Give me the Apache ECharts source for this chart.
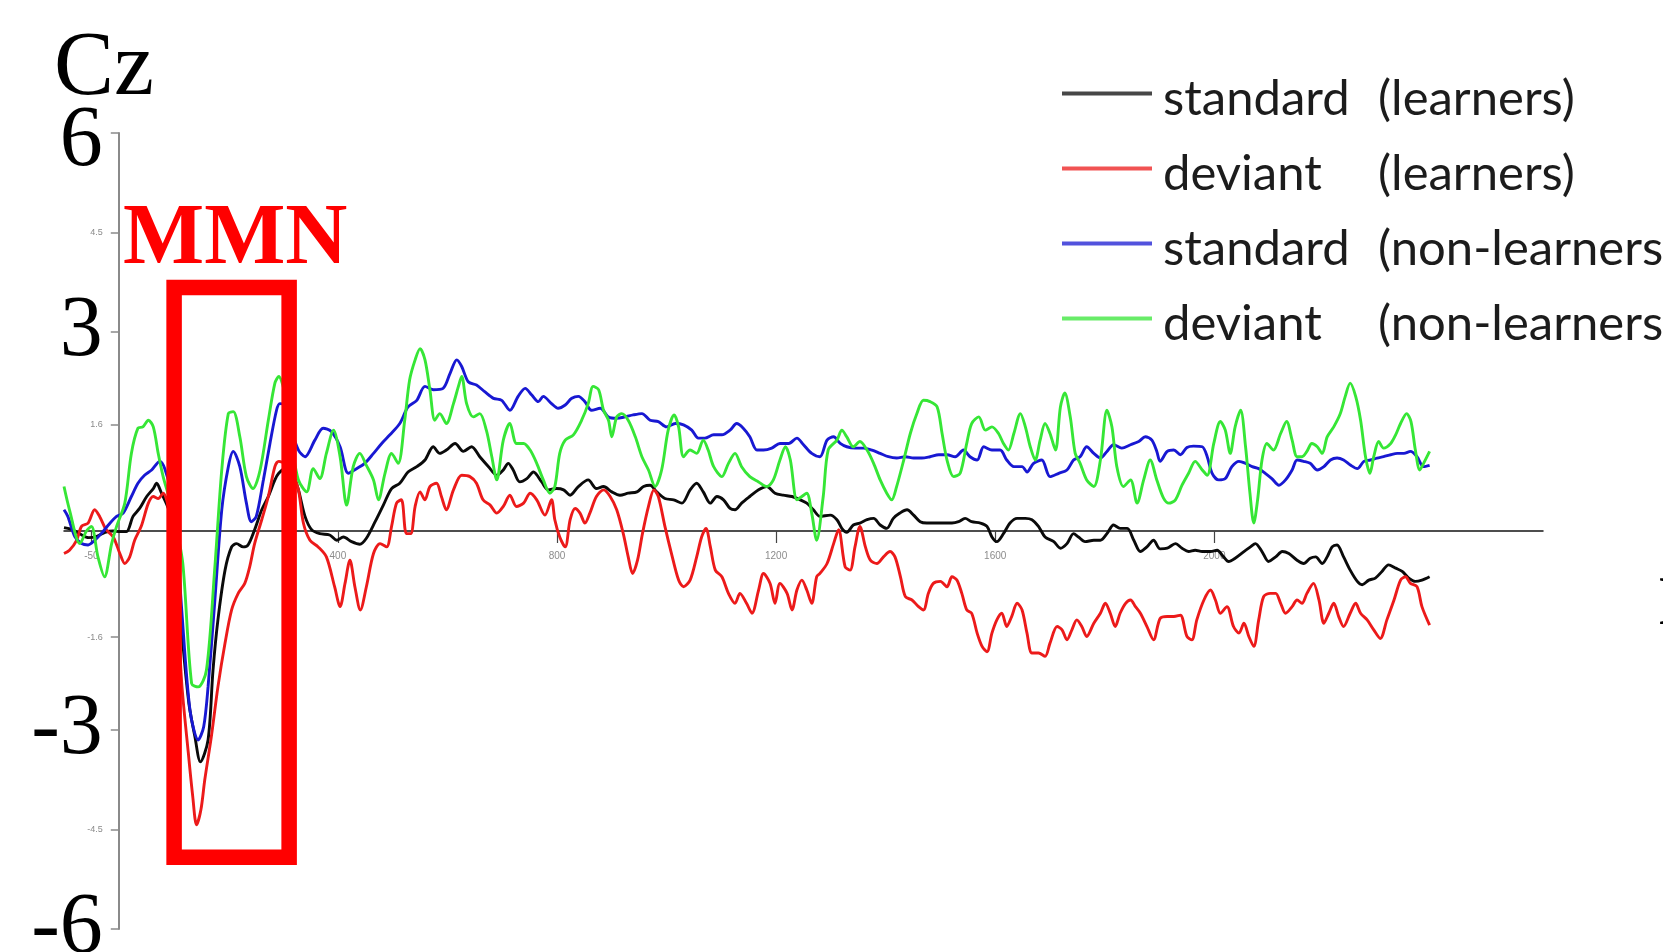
<!DOCTYPE html>
<html lang="en">
<head>
<meta charset="UTF-8">
<title>Cz ERP - MMN</title>
<script src="https://cdn.jsdelivr.net/npm/echarts@6/dist/echarts.min.js"></script>
<style>
  html, body { margin: 0; padding: 0; background: #fff; }
  #main { width: 1663px; height: 952px; }
</style>
</head>
<body>
<div id="main"></div>
<script>
// series names / colours (legend order)
var seriesNames = ['standard (learners)', 'deviant (learners)', 'standard (non-learners)', 'deviant (non-learners)'];
var seriesColors = ['#0a0a0a', '#ec1a1a', '#1818d2', '#36e636'];

// axis ticks
var xTicks = [-50, 400, 800, 1200, 1600, 2000];
var yTicks = [6, 4.5, 3, 1.6, -1.6, -3, -4.5, -6];
var bigYTicks = [6, 3, -3, -6];

// MMN window (ms) and box extent (uV)
var mmnWindow = [101, 311];
var mmnRange = [3.67, -4.92];

// [time ms, amplitude uV]
var stdLearners = [
  [-100,0.05],[-85,0.02],[-70,-0.05],[-55,-0.1],[-40,-0.08],[-25,-0.02],[-10,0.0],[2,-0.01],[14,-0.01],[26,0.22],
  [38,0.34],[51,0.52],[63,0.64],[69,0.72],[78,0.57],[90,0.35],[102,0.0],[115,-1.5],[128,-2.6],[139,-3.1],
  [149,-3.48],[163,-3.15],[172,-2.1],[181,-1.34],[194,-0.59],[206,-0.24],[215,-0.19],[227,-0.24],[236,-0.21],[248,0.02],
  [261,0.32],[273,0.52],[285,0.77],[292,0.87],[305,0.95],[318,0.85],[328,0.62],[340,0.22],[352,0.02],[367,-0.04],
  [385,-0.06],[398,-0.14],[410,-0.09],[425,-0.16],[440,-0.2],[452,-0.11],[468,0.14],[483,0.39],[498,0.64],[513,0.72],
  [528,0.89],[544,0.97],[559,1.07],[574,1.27],[586,1.17],[598,1.22],[614,1.32],[629,1.2],[644,1.27],[659,1.12],
  [675,0.97],[690,0.84],[702,0.92],[711,1.02],[720,0.92],[732,0.74],[745,0.79],[757,0.89],[772,0.74],[784,0.62],
  [799,0.64],[812,0.62],[824,0.54],[839,0.67],[857,0.77],[872,0.64],[885,0.67],[900,0.59],[915,0.54],[930,0.57],
  [946,0.59],[958,0.67],[970,0.69],[982,0.59],[997,0.49],[1013,0.47],[1028,0.42],[1043,0.62],[1055,0.72],[1067,0.59],
  [1080,0.42],[1092,0.52],[1104,0.47],[1116,0.34],[1125,0.32],[1137,0.42],[1152,0.52],[1168,0.62],[1183,0.67],[1198,0.57],
  [1213,0.54],[1229,0.52],[1244,0.47],[1256,0.42],[1268,0.32],[1280,0.22],[1299,0.24],[1311,0.17],[1320,0.04],[1329,-0.02],
  [1341,0.09],[1353,0.12],[1366,0.17],[1378,0.19],[1390,0.09],[1402,0.04],[1414,0.19],[1426,0.27],[1439,0.32],[1451,0.24],
  [1463,0.14],[1475,0.12],[1490,0.12],[1506,0.12],[1521,0.12],[1533,0.14],[1545,0.19],[1557,0.14],[1573,0.12],[1585,0.07],
  [1594,-0.09],[1603,-0.16],[1615,-0.04],[1627,0.12],[1640,0.19],[1655,0.19],[1667,0.17],[1679,0.07],[1691,-0.09],[1707,-0.16],
  [1719,-0.26],[1731,-0.19],[1743,-0.04],[1752,-0.09],[1764,-0.16],[1780,-0.14],[1792,-0.14],[1804,-0.04],[1816,0.09],[1828,0.04],
  [1841,0.04],[1853,-0.14],[1865,-0.31],[1877,-0.24],[1889,-0.14],[1901,-0.27],[1914,-0.26],[1929,-0.19],[1941,-0.26],[1953,-0.31],
  [1965,-0.29],[1978,-0.31],[1993,-0.31],[2005,-0.29],[2017,-0.39],[2026,-0.46],[2038,-0.41],[2054,-0.31],[2066,-0.24],[2075,-0.19],
  [2087,-0.31],[2099,-0.46],[2112,-0.39],[2124,-0.31],[2136,-0.34],[2151,-0.44],[2163,-0.49],[2175,-0.41],[2185,-0.39],[2197,-0.49],
  [2206,-0.39],[2215,-0.24],[2224,-0.21],[2236,-0.39],[2248,-0.59],[2261,-0.76],[2270,-0.81],[2282,-0.74],[2294,-0.71],[2306,-0.61],
  [2318,-0.51],[2331,-0.56],[2343,-0.61],[2355,-0.71],[2367,-0.76],[2379,-0.74],[2393,-0.69]
];

var devLearners = [
  [-100,-0.34],[-90,-0.29],[-77,-0.14],[-68,0.07],[-56,0.12],[-44,0.32],[-35,0.22],[-23,0.02],[-10,-0.09],[2,-0.34],
  [11,-0.49],[20,-0.39],[29,-0.14],[41,0.07],[54,0.42],[63,0.52],[72,0.49],[81,0.57],[92,0.3],[102,-0.4],
  [115,-2.3],[127,-3.35],[135,-4.0],[142,-4.43],[150,-4.2],[157,-3.75],[169,-3.1],[181,-2.35],[194,-1.69],[206,-1.19],
  [218,-0.94],[230,-0.79],[239,-0.54],[248,-0.19],[261,0.17],[273,0.52],[285,0.97],[292,1.05],[305,1.0],[318,0.85],
  [328,0.62],[337,0.12],[349,-0.14],[364,-0.24],[379,-0.39],[394,-0.84],[404,-1.14],[413,-0.79],[422,-0.44],[431,-0.84],
  [441,-1.19],[452,-0.84],[465,-0.34],[477,-0.19],[489,-0.24],[498,0.07],[507,0.42],[516,0.47],[525,-0.04],[533,-0.04],
  [541,0.37],[550,0.59],[559,0.47],[568,0.67],[580,0.72],[589,0.52],[598,0.32],[611,0.62],[626,0.84],[641,0.82],
  [653,0.72],[665,0.47],[678,0.39],[690,0.27],[702,0.37],[714,0.54],[726,0.37],[739,0.42],[751,0.57],[763,0.47],
  [778,0.24],[790,0.47],[796,0.17],[805,-0.09],[815,-0.24],[824,0.17],[833,0.34],[842,0.27],[851,0.12],[860,0.27],
  [872,0.52],[885,0.62],[897,0.52],[909,0.32],[921,-0.04],[930,-0.39],[938,-0.64],[947,-0.44],[956,-0.04],[967,0.37],
  [977,0.62],[985,0.52],[997,0.07],[1009,-0.34],[1022,-0.74],[1031,-0.84],[1043,-0.74],[1055,-0.39],[1064,-0.09],[1072,0.04],
  [1080,-0.24],[1089,-0.59],[1101,-0.69],[1113,-0.94],[1125,-1.09],[1134,-0.94],[1146,-1.09],[1156,-1.24],[1168,-0.89],[1177,-0.64],
  [1189,-0.79],[1198,-1.09],[1207,-0.79],[1220,-0.94],[1229,-1.19],[1238,-0.89],[1247,-0.74],[1256,-0.89],[1265,-1.09],[1274,-0.69],
  [1280,-0.64],[1293,-0.49],[1305,-0.19],[1314,0.02],[1326,-0.54],[1335,-0.59],[1344,-0.24],[1353,0.07],[1363,-0.24],[1372,-0.44],
  [1384,-0.49],[1396,-0.39],[1408,-0.31],[1417,-0.39],[1427,-0.69],[1436,-0.99],[1448,-1.04],[1460,-1.14],[1469,-1.19],[1478,-0.94],
  [1487,-0.79],[1500,-0.76],[1512,-0.84],[1521,-0.69],[1530,-0.74],[1539,-0.94],[1548,-1.19],[1557,-1.24],[1567,-1.54],[1576,-1.74],
  [1585,-1.82],[1594,-1.54],[1603,-1.34],[1612,-1.24],[1621,-1.44],[1630,-1.29],[1640,-1.09],[1649,-1.19],[1658,-1.54],[1667,-1.84],
  [1679,-1.84],[1691,-1.89],[1700,-1.69],[1713,-1.44],[1722,-1.49],[1731,-1.64],[1740,-1.49],[1749,-1.34],[1758,-1.44],[1767,-1.59],
  [1780,-1.39],[1792,-1.24],[1801,-1.09],[1810,-1.24],[1819,-1.44],[1828,-1.24],[1838,-1.09],[1847,-1.04],[1856,-1.14],[1865,-1.24],
  [1877,-1.44],[1889,-1.64],[1901,-1.32],[1914,-1.29],[1926,-1.29],[1938,-1.27],[1950,-1.59],[1959,-1.64],[1968,-1.34],[1981,-1.04],
  [1993,-0.89],[2002,-1.04],[2011,-1.24],[2023,-1.14],[2035,-1.44],[2045,-1.54],[2054,-1.39],[2063,-1.59],[2072,-1.74],[2081,-1.34],
  [2090,-0.99],[2102,-0.94],[2112,-0.94],[2121,-1.09],[2130,-1.24],[2142,-1.14],[2151,-1.04],[2160,-1.09],[2169,-0.94],[2181,-0.79],
  [2191,-1.04],[2200,-1.39],[2209,-1.24],[2218,-1.09],[2227,-1.29],[2236,-1.44],[2248,-1.24],[2258,-1.09],[2267,-1.24],[2279,-1.34],
  [2291,-1.49],[2303,-1.62],[2315,-1.34],[2328,-1.04],[2340,-0.74],[2349,-0.69],[2358,-0.79],[2370,-0.84],[2379,-1.14],[2393,-1.42]
];

var stdNonLearners = [
  [-100,0.32],[-93,0.22],[-80,-0.09],[-68,-0.19],[-56,-0.21],[-44,-0.14],[-32,-0.04],[-19,0.09],[-4,0.22],[8,0.27],
  [23,0.52],[35,0.72],[47,0.84],[60,0.92],[75,1.05],[84,0.94],[95,0.6],[105,0.0],[115,-1.2],[130,-2.7],
  [145,-3.15],[155,-2.95],[163,-2.35],[175,-1.09],[188,0.32],[200,0.97],[209,1.2],[221,0.97],[233,0.42],[242,0.14],
  [251,0.22],[264,0.77],[276,1.32],[288,1.82],[294,1.92],[305,1.9],[316,1.5],[328,1.22],[340,1.12],[358,1.37],
  [373,1.55],[388,1.5],[404,1.27],[419,0.87],[434,0.94],[449,1.02],[465,1.17],[480,1.32],[495,1.45],[513,1.62],
  [528,1.87],[544,1.97],[559,2.18],[574,2.13],[592,2.15],[605,2.38],[617,2.58],[626,2.48],[638,2.25],[653,2.2],
  [668,2.1],[684,2.0],[699,1.97],[714,1.82],[729,2.03],[742,2.15],[754,2.05],[766,1.95],[775,2.03],[790,1.92],
  [802,1.85],[815,1.9],[827,2.0],[839,2.03],[851,1.95],[863,1.82],[879,1.85],[894,1.72],[909,1.7],[924,1.72],
  [939,1.75],[955,1.77],[970,1.67],[985,1.65],[1000,1.57],[1016,1.62],[1031,1.6],[1046,1.52],[1058,1.4],[1070,1.4],
  [1086,1.45],[1101,1.45],[1116,1.52],[1128,1.62],[1140,1.55],[1152,1.42],[1165,1.22],[1177,1.22],[1192,1.25],[1207,1.32],
  [1223,1.32],[1238,1.4],[1250,1.3],[1265,1.17],[1280,1.12],[1293,1.37],[1305,1.42],[1317,1.32],[1329,1.27],[1344,1.25],
  [1360,1.25],[1375,1.22],[1390,1.17],[1405,1.12],[1420,1.1],[1436,1.12],[1451,1.1],[1466,1.1],[1481,1.12],[1497,1.15],
  [1512,1.15],[1527,1.12],[1542,1.22],[1554,1.12],[1567,1.07],[1579,1.27],[1594,1.22],[1609,1.22],[1621,1.07],[1634,0.97],
  [1649,0.97],[1658,0.89],[1670,1.02],[1685,1.07],[1700,0.82],[1716,0.87],[1731,0.92],[1743,1.07],[1755,1.12],[1767,1.27],
  [1780,1.17],[1792,1.1],[1804,1.2],[1816,1.3],[1831,1.25],[1847,1.3],[1862,1.35],[1874,1.42],[1886,1.37],[1895,1.2],
  [1901,1.05],[1914,1.2],[1926,1.22],[1938,1.15],[1950,1.26],[1962,1.28],[1978,1.27],[1987,1.12],[1996,0.87],[2008,0.77],
  [2020,0.79],[2032,0.97],[2045,1.05],[2057,1.02],[2069,0.97],[2081,0.94],[2093,0.87],[2105,0.79],[2118,0.69],[2130,0.77],
  [2142,0.92],[2151,1.07],[2163,1.05],[2175,1.02],[2188,0.92],[2200,0.97],[2212,1.07],[2224,1.1],[2236,1.07],[2249,0.99],
  [2261,0.94],[2273,1.05],[2285,1.07],[2297,1.1],[2309,1.12],[2322,1.15],[2334,1.17],[2346,1.17],[2358,1.2],[2370,1.12],
  [2382,0.97],[2393,0.99]
];

var devNonLearners = [
  [-100,0.67],[-90,0.32],[-71,-0.19],[-59,0.0],[-50,0.07],[-38,-0.39],[-26,-0.69],[-13,-0.19],[-4,0.07],[11,0.42],
  [23,1.17],[35,1.55],[44,1.57],[54,1.67],[63,1.57],[72,1.17],[81,0.82],[92,0.5],[104,0.1],[117,-0.5],
  [133,-2.3],[145,-2.35],[160,-2.1],[175,-0.59],[188,0.92],[200,1.77],[209,1.8],[221,1.42],[233,0.82],[245,0.64],
  [258,0.92],[273,1.67],[285,2.23],[292,2.33],[305,2.0],[318,1.2],[328,0.77],[343,0.59],[355,0.94],[367,0.79],
  [379,1.17],[392,1.52],[404,1.12],[416,0.39],[428,0.97],[440,1.17],[452,0.99],[465,0.77],[474,0.47],[486,0.87],
  [498,1.17],[510,1.02],[522,1.67],[531,2.28],[541,2.58],[550,2.75],[559,2.58],[568,2.13],[577,1.67],[586,1.77],
  [598,1.62],[611,1.92],[620,2.18],[626,2.33],[635,1.92],[647,1.72],[659,1.77],[671,1.52],[681,1.12],[690,0.77],
  [702,1.37],[714,1.62],[726,1.32],[739,1.32],[751,1.22],[763,1.02],[775,0.77],[787,0.57],[796,0.67],[805,1.17],
  [815,1.37],[830,1.45],[845,1.67],[857,1.92],[866,2.18],[876,2.13],[885,1.82],[894,1.67],[900,1.42],[909,1.72],
  [918,1.77],[930,1.67],[943,1.42],[955,1.12],[967,0.92],[979,0.67],[991,0.92],[1003,1.52],[1014,1.75],[1022,1.57],
  [1031,1.12],[1043,1.22],[1055,1.17],[1067,1.37],[1076,1.22],[1086,0.97],[1101,0.82],[1113,1.02],[1125,1.17],[1137,0.97],
  [1152,0.82],[1168,0.74],[1183,0.67],[1195,0.77],[1207,1.07],[1217,1.27],[1226,1.07],[1238,0.47],[1247,0.52],[1256,0.57],
  [1265,0.27],[1274,-0.14],[1286,0.52],[1295,1.22],[1311,1.37],[1320,1.52],[1329,1.42],[1341,1.27],[1353,1.35],[1366,1.22],
  [1378,1.02],[1390,0.77],[1402,0.57],[1411,0.47],[1420,0.67],[1433,1.07],[1445,1.47],[1457,1.77],[1469,1.97],[1481,1.95],
  [1494,1.87],[1503,1.47],[1512,1.07],[1524,0.82],[1536,0.87],[1548,1.32],[1557,1.62],[1570,1.72],[1582,1.52],[1594,1.57],
  [1606,1.47],[1615,1.32],[1624,1.22],[1634,1.47],[1646,1.77],[1655,1.57],[1664,1.27],[1673,1.07],[1682,1.37],[1691,1.62],
  [1700,1.47],[1710,1.22],[1719,1.87],[1727,2.08],[1737,1.72],[1746,1.17],[1755,1.02],[1767,0.77],[1780,0.67],[1792,1.07],
  [1804,1.82],[1813,1.57],[1822,0.97],[1834,0.67],[1847,0.77],[1859,0.42],[1871,0.77],[1883,1.07],[1895,0.77],[1907,0.5],
  [1917,0.42],[1929,0.47],[1941,0.69],[1953,0.87],[1965,1.05],[1978,0.92],[1987,0.84],[1999,1.32],[2011,1.65],[2020,1.52],
  [2029,1.17],[2038,1.57],[2048,1.82],[2057,1.27],[2065,0.57],[2072,0.12],[2079,0.47],[2087,1.07],[2096,1.32],[2108,1.22],
  [2121,1.47],[2132,1.65],[2142,1.37],[2151,1.12],[2160,1.12],[2169,1.2],[2178,1.32],[2188,1.27],[2197,1.17],[2206,1.42],
  [2218,1.57],[2230,1.77],[2239,2.03],[2248,2.23],[2258,2.03],[2267,1.67],[2276,1.12],[2284,0.87],[2291,1.12],[2300,1.35],
  [2309,1.25],[2322,1.32],[2331,1.45],[2340,1.62],[2351,1.77],[2359,1.65],[2367,1.22],[2375,0.92],[2382,1.02],[2393,1.2]
];

var seriesData = [stdLearners, devLearners, stdNonLearners, devNonLearners];

var chart = echarts.init(document.getElementById('main'));

var option = {
  animation: false,
  backgroundColor: '#ffffff',
  title: [
    {
      text: 'Cz', left: 54, top: 25, padding: 0,
      textStyle: { fontFamily: 'Liberation Serif', fontSize: 90, fontWeight: 'normal', color: '#000' }
    },
    {
      text: 'MMN', left: 123, top: 198, padding: 0,
      textStyle: { fontFamily: 'Liberation Serif', fontSize: 86, fontWeight: 'bold', color: '#ff0000' }
    }
  ],
  legend: {
    orient: 'vertical',
    left: 1062,
    top: 63,
    padding: 0,
    icon: 'rect',
    itemWidth: 90,
    itemHeight: 4,
    itemGap: 14,
    selectedMode: false,
    data: seriesNames,
    itemStyle: { opacity: 0.75 },
    formatter: function (name) {
      var i = name.indexOf(' ');
      return '{a|' + name.slice(0, i) + '}{b|' + name.slice(i + 1) + '}';
    },
    textStyle: {
      fontFamily: 'Lato', fontSize: 49, color: '#1c1c1c',
      rich: {
        a: { fontFamily: 'Lato', fontSize: 49, color: '#1c1c1c', width: 215, lineHeight: 56, padding: [12, 0, 0, 6] },
        b: { fontFamily: 'Lato', fontSize: 49, color: '#1c1c1c', lineHeight: 56, padding: [12, 0, 0, 0] }
      }
    }
  },
  grid: { left: 64, right: 120, top: 133, bottom: 23, containLabel: false, outerBoundsMode: 'none' },
  xAxis: {
    type: 'value',
    min: -100,
    max: 2600,
    position: 'bottom',
    splitLine: { show: false },
    axisLine: { onZero: false, lineStyle: { color: '#151515', width: 1.5 } },
    axisTick: { customValues: xTicks, length: 12, lineStyle: { color: '#444', width: 1.2 } },
    axisLabel: {
      customValues: xTicks, margin: 20,
      formatter: function (v) { return String(v); },
      fontFamily: 'Liberation Sans', fontSize: 10, color: '#8c8c8c'
    }
  },
  yAxis: {
    type: 'value',
    min: -6,
    max: 6,
    position: 'left',
    splitLine: { show: false },
    axisLine: { onZero: false, lineStyle: { color: '#8a8a8a', width: 2 } },
    axisTick: { customValues: yTicks, length: 8, lineStyle: { color: '#8a8a8a', width: 1.5 } },
    axisLabel: {
      customValues: yTicks, margin: 16,
      formatter: function (v) {
        if (v === yTicks[0]) return '{top|' + v + '}';
        return bigYTicks.indexOf(v) >= 0 ? '{big|' + v + '}' : '{small|' + v + '}';
      },
      rich: {
        top: { fontFamily: 'Liberation Serif', fontSize: 86, color: '#000', padding: [18, 0, 0, 0] },
        big: { fontFamily: 'Liberation Serif', fontSize: 86, color: '#000' },
        small: { fontFamily: 'Liberation Sans', fontSize: 9, color: '#8a8a8a' }
      }
    }
  },
  series: seriesData.map(function (d, i) {
    return {
      name: seriesNames[i],
      type: 'line',
      data: d,
      symbol: 'none',
      smooth: 0.3,
      color: seriesColors[i],
      lineStyle: { width: 2.9, color: seriesColors[i] }
    };
  })
};

chart.setOption(option);

// put both axes through the origin (0 ms, 0 uV), labels included
var yZero = chart.convertToPixel({ yAxisIndex: 0 }, 0);
var yBottom = chart.convertToPixel({ yAxisIndex: 0 }, -6);
var xZero = chart.convertToPixel({ xAxisIndex: 0 }, 0);
var xLeft = chart.convertToPixel({ xAxisIndex: 0 }, -100);

// red MMN box from the data window
var p1 = chart.convertToPixel({ gridIndex: 0 }, [mmnWindow[0], mmnRange[0]]);
var p2 = chart.convertToPixel({ gridIndex: 0 }, [mmnWindow[1], mmnRange[1]]);

chart.setOption({
  xAxis: { offset: yZero - yBottom },
  yAxis: { offset: xLeft - xZero },
  graphic: [
    {
      type: 'rect', z: 100,
      shape: { x: p1[0], y: p1[1], width: p2[0] - p1[0], height: p2[1] - p1[1] },
      style: { fill: 'none', stroke: '#ff0000', lineWidth: 15.5 }
    },
    {
      type: 'text', z: 100, left: 1658, top: 548,
      style: { text: 'ms', font: '100px "Liberation Serif"', fill: '#000' }
    }
  ]
});
</script>
</body>
</html>
